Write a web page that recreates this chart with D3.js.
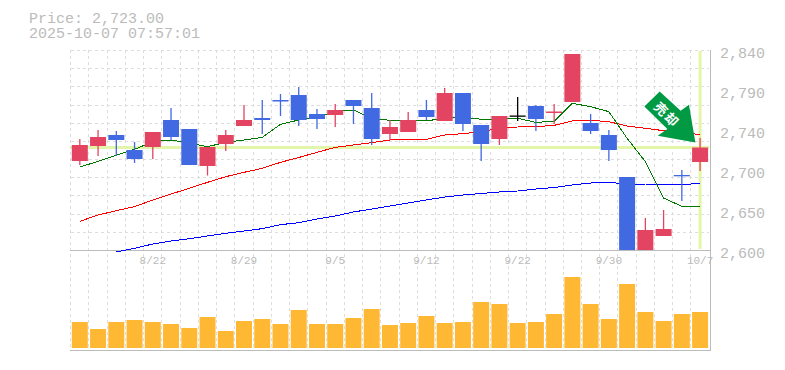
<!DOCTYPE html>
<html>
<head>
<meta charset="utf-8">
<style>
  html, body { margin: 0; padding: 0; background: #fff; }
  svg { display: block; }
  text { font-family: "Liberation Mono", monospace; fill: #bbb; }
</style>
</head>
<body>
<script src="https://cdn.jsdelivr.net/npm/d3@7"></script>
<script>
const dates = ["", "", "", "", "8/22", "", "", "", "", "8/29", "", "", "", "", "9/5", "", "", "", "", "9/12", "", "", "", "", "9/22", "", "", "", "", "9/30", "", "", "", "", "10/7"];
const opens = [2706.8, 2724.8, 2738, 2720, 2723.6, 2756, 2745.2, 2700.8, 2727.2, 2748.8, 2758.4, 2780, 2786, 2763.2, 2762, 2780, 2770.4, 2739.2, 2741.6, 2768, 2754.8, 2788.4, 2750, 2733.2, 2761.4, 2772.8, 2764.4, 2777.6, 2752.4, 2738, 2687.6, 2596, 2616.8, 2690, 2705.6];
const closes = [2726, 2735.6, 2732, 2709.2, 2741.6, 2735.6, 2702, 2723.6, 2738, 2756, 2756, 2778.2, 2756, 2757.2, 2768, 2772.8, 2733.2, 2747.6, 2756, 2759.6, 2788.4, 2751.2, 2727.2, 2760.8, 2761.4, 2757.2, 2766.2, 2835.2, 2742.8, 2720, 2590, 2624, 2625.2, 2688.8, 2723];
const highs = [2733.2, 2744, 2742.8, 2729.6, 2741.6, 2770.4, 2745.2, 2723.6, 2744, 2774, 2780, 2787.2, 2795.6, 2769.2, 2775.2, 2780, 2788.4, 2756, 2765.6, 2780, 2794.4, 2788.4, 2750, 2760.8, 2783.6, 2774, 2775.2, 2835.2, 2763.2, 2744, 2687.6, 2638.4, 2648, 2696, 2734.4];
const lows = [2702, 2712.8, 2712.8, 2704.4, 2709.2, 2732, 2702, 2689.4, 2718.8, 2748.8, 2739.2, 2760.8, 2748.8, 2745.2, 2747.6, 2751.2, 2726, 2732, 2741.6, 2756, 2754.8, 2742.8, 2706.8, 2726, 2754.8, 2742.8, 2751.2, 2777.6, 2739.2, 2706.8, 2590, 2590, 2616.8, 2658.8, 2694.8];
const ma5 = [2699.6, 2706.4, 2713.6, 2720.8, 2730, 2732, 2728.4, 2724, 2729.2, 2732, 2735.2, 2750.8, 2756, 2759.2, 2766, 2768, 2758, 2755.6, 2755.6, 2754.8, 2758.4, 2759.6, 2756.8, 2756.8, 2758, 2753.2, 2754.4, 2776, 2772, 2766, 2734, 2706, 2662.4, 2652.4, 2652.4];
const ma25 = [2634.4, 2642, 2647.2, 2652, 2660, 2667.2, 2674, 2681.2, 2688, 2693.2, 2698, 2705.2, 2711, 2717.2, 2723.2, 2726, 2728.8, 2732, 2732.8, 2732.8, 2738, 2739.6, 2742, 2746, 2747.6, 2748, 2749.6, 2754.8, 2755.6, 2754, 2748.8, 2746, 2743.2, 2741, 2738.4];
const ma75 = [null, null, 2597.6, 2602, 2607.2, 2610.8, 2613.6, 2616.8, 2620, 2622.8, 2625.6, 2630.4, 2632.8, 2637.2, 2640.8, 2645.6, 2649.2, 2652.8, 2656.4, 2660, 2663.6, 2666, 2667.8, 2669.6, 2670.8, 2673.2, 2675, 2678, 2680.4, 2681.2, 2679.2, 2679.2, 2678.4, 2678.8, 2679.6];
const volume = [78, 57, 78, 84, 78, 72, 60, 93, 51, 81, 87, 72, 114, 72, 72, 90, 117, 69, 75, 96, 75, 78, 138, 132, 75, 78, 102, 213, 132, 87, 192, 108, 81, 102, 108];
const priceTicks = [2840, 2792, 2744, 2696, 2648, 2600];
const lastPrice = 2723;
const titleLines = ["Price: 2,723.00", "2025-10-07 07:57:01"];

const w = 785;
const h = 370;
const plotLeft = 70.7;
const plotRight = 709.2;
const plotTop = 50;
const priceBottom = 250;
const volTop = 250;
const volBottom = 348;
const mono = '"Liberation Mono", monospace';

const svg = d3.select("body").append("svg").attr("width", w).attr("height", h);

const idx = d3.range(dates.length);
const x = d3.scaleBand().domain(idx).range([plotLeft, plotRight]);
const cx = (i) => x(i) + x.bandwidth() / 2;
const y = d3.scaleLinear().domain([2600, 2840]).range([priceBottom, plotTop]);
const yVol = d3.scaleLinear().domain([0, 294]).range([volBottom, volTop]);

svg.append("defs").append("clipPath").attr("id", "price-clip")
  .append("rect").attr("x", plotLeft).attr("y", plotTop).attr("width", plotRight - plotLeft + 2).attr("height", priceBottom - plotTop);

// title
svg.append("text")
  .attr("y", 23)
  .style("font-size", "15px")
  .selectAll("tspan").data(titleLines).enter().append("tspan")
  .attr("x", 29)
  .attr("dy", (d, i) => (i ? 15 : 0))
  .text((d) => d);

// grid
const hGrid = d3.axisLeft(y).tickValues(d3.range(12).map((i) => 2600 + (i * 240) / 11)).tickSize(-(plotRight - plotLeft)).tickFormat("");
const gridY = svg.append("g").attr("transform", `translate(${plotLeft},0)`).call(hGrid);
gridY.select(".domain").remove();
gridY.selectAll("line").attr("stroke", "#ddd").attr("stroke-dasharray", "3,3").attr("shape-rendering", "crispEdges");

const edges = idx.map((i) => Math.floor(x(i)) + 0.5);
svg.selectAll(".vgrid").data(edges).enter().append("line")
  .attr("class", "vgrid")
  .attr("x1", (d) => d).attr("x2", (d) => d)
  .attr("y1", plotTop).attr("y2", 350)
  .attr("stroke", "#ddd").attr("stroke-dasharray", "3,3");

// frame
svg.append("path")
  .attr("d", `M70,250.5H710.5M70,350.5H710.5M710.5,${plotTop}V351`)
  .attr("fill", "none").attr("stroke", "#bbb").attr("stroke-width", 1);

// latest price guides
svg.append("line")
  .attr("x1", plotLeft).attr("x2", plotRight).attr("y1", y(lastPrice)).attr("y2", y(lastPrice))
  .attr("stroke", "#e3f5a8").attr("stroke-width", 3);
svg.append("line")
  .attr("x1", cx(34)).attr("x2", cx(34)).attr("y1", plotTop + 1).attr("y2", priceBottom - 1)
  .attr("stroke", "#e3f5a8").attr("stroke-width", 3);

// x labels
const xAxis = d3.axisBottom(x).tickSize(0).tickPadding(0).tickFormat((i) => dates[i]);
const gx = svg.append("g").attr("transform", `translate(0,${priceBottom + 6})`).call(xAxis);
gx.select(".domain").remove();
gx.selectAll("text").style("fill", "#bbb").style("font-family", mono).style("font-size", "11px");

// y labels
const yAxis = d3.axisRight(y).tickValues(priceTicks).tickSize(0).tickPadding(0)
  .tickFormat((d) => d3.format(",")(Math.round(d / 10) * 10));
const gy = svg.append("g").attr("transform", "translate(720,3)").call(yAxis);
gy.select(".domain").remove();
gy.selectAll("text").style("fill", "#bbb").style("font-family", mono).style("font-size", "15px");

// volume
svg.selectAll(".vol").data(volume).enter().append("rect")
  .attr("class", "vol")
  .attr("x", (d, i) => cx(i) - 8)
  .attr("width", 16)
  .attr("y", (d) => yVol(d))
  .attr("height", (d) => yVol(0) - yVol(d))
  .attr("fill", "#ffb833");

// moving averages
const line = d3.line().defined((d) => d != null).x((d, i) => cx(i)).y((d) => y(d));
[[ma75, "#0000ff"], [ma25, "#ff0000"], [ma5, "#007700"]].forEach(([values, color]) => {
  svg.append("path")
    .attr("d", line(values))
    .attr("fill", "none")
    .attr("stroke", color)
    .attr("stroke-width", 1)
    .attr("shape-rendering", "crispEdges");
});

// candles
const candleColor = (i) => {
  if (opens[i] === closes[i]) return "#000";
  return closes[i] > opens[i] ? "#e24462" : "#4169e1";
};
const candles = svg.append("g").attr("clip-path", "url(#price-clip)");
candles.selectAll(".wick").data(idx).enter().append("line")
  .attr("class", "wick")
  .attr("x1", cx).attr("x2", cx)
  .attr("y1", (i) => y(highs[i]))
  .attr("y2", (i) => y(lows[i]))
  .attr("stroke", candleColor)
  .attr("stroke-width", 1.3);
candles.selectAll(".body").data(idx).enter().append("rect")
  .attr("class", "body")
  .attr("x", (i) => cx(i) - 8)
  .attr("width", 16)
  .attr("y", (i) => y(Math.max(opens[i], closes[i])))
  .attr("height", (i) => Math.max(1.3, Math.abs(y(opens[i]) - y(closes[i]))))
  .attr("fill", candleColor);

// signal arrow
const arrowShape = [[-35.7, -51], [-51, -36], [-28, -13.4], [-37.7, -6.7], [0, 0], [-6.4, -37.7], [-14.7, -31.7]];
const arrow = svg.append("g").attr("transform", `translate(${cx(34) - 4.7},${y(lastPrice) - 5})`);
arrow.append("path")
  .attr("d", d3.line()(arrowShape) + "Z")
  .attr("fill", "#009944");
arrow.append("text")
  .attr("transform", "translate(-28.5,-27.5) rotate(45)")
  .attr("text-anchor", "middle")
  .attr("dy", "0.36em")
  .style("font-family", '"Noto Sans CJK JP"')
  .style("font-size", "13px")
  .style("letter-spacing", "2px")
  .style("font-weight", "700")
  .style("fill", "#fff")
  .text("売却");
</script>
</body>
</html>
